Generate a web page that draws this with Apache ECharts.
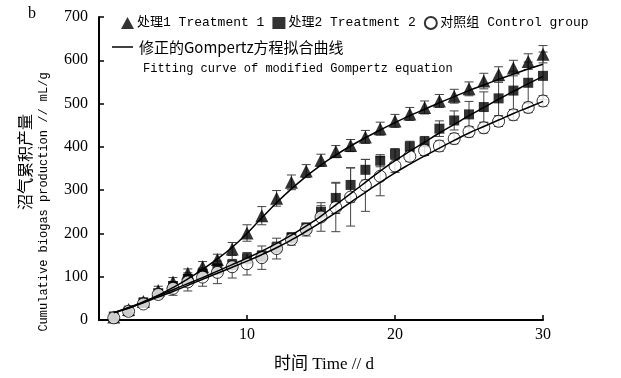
<!DOCTYPE html>
<html>
<head>
<meta charset="utf-8">
<script src="https://cdn.jsdelivr.net/npm/echarts@6/dist/echarts.min.js"></script>
<style>html,body{margin:0;padding:0;background:#fff;}#c{width:621px;height:378px;}</style>
</head>
<body>
<div id="c"></div>
<script>
const days = [1,2,3,4,5,6,7,8,9,10,11,12,13,14,15,16,17,18,19,20,21,22,23,24,25,26,27,28,29,30];
const treat1 = [7,24,43,68,88,108,123,140,164,201,241,281,318,344,369,389,403,423,442,460,476,491,506,517,534,552,567,582,597,614];
const treat1Err = [5,8,8,10,10,10,12,12,15,19,21,18,17,15,14,14,14,15,15,15,15,15,15,16,16,18,18,18,18,20];
const treat2 = [8,20,40,62,78,95,107,118,128,142,148,168,190,212,250,282,312,347,368,384,401,412,442,461,475,492,512,530,548,564];
const treat2Err = [5,6,8,8,10,10,10,12,12,12,12,12,12,12,14,36,40,24,14,12,12,12,18,22,30,35,40,45,48,55];
const control = [5,20,37,59,73,88,99,110,123,130,144,165,186,209,238,260,284,311,332,356,378,392,402,419,435,444,459,474,491,506];
const controlErr = [5,6,8,10,16,21,21,26,26,26,27,24,13,15,33,56,67,60,45,15,12,12,12,12,12,12,12,12,12,12];
const fit1 = [17,27,41,57,75,95,117,141,168,200,236,271,303,332,358,381,402,421,439,456,472,487,502,516,530,543,556,568,580,591];
const fit2 = [17,29,42,56,70,84,98,113,128,143,159,177,196,217,240,266,292,318,344,368,390,411,432,452,472,491,510,528,546,563];
const fit3 = [17,28,40,53,66,80,94,108,122,136,151,167,185,205,226,248,272,295,318,340,360,379,397,415,432,447,462,477,491,505];
const seriesNames = ['处理1 Treatment 1','处理2 Treatment 2','对照组 Control group'];
const yTicks = [0,100,200,300,400,500,600,700];
const xTicks = [0,10,20,30];

const MONO = '"Liberation Mono","Noto Sans CJK SC",monospace';
const SERIF = '"Liberation Serif","Noto Sans CJK SC",serif';

function pairs(vals){ return days.map((d,i)=>[d, vals[i]]); }
function errData(vals, errs){ return days.map((d,i)=>[d, vals[i], errs[i]]); }

function errRender(params, api){
  const x = api.value(0), y = api.value(1), e = api.value(2);
  const top = api.coord([x, y + e]);
  const bot = api.coord([x, y - e]);
  const hw = 4.5;
  const st = {stroke:'#444', lineWidth:1};
  return {type:'group', children:[
    {type:'line', shape:{x1:top[0], y1:top[1], x2:bot[0], y2:bot[1]}, style:st},
    {type:'line', shape:{x1:top[0]-hw, y1:top[1], x2:top[0]+hw, y2:top[1]}, style:st},
    {type:'line', shape:{x1:bot[0]-hw, y1:bot[1], x2:bot[0]+hw, y2:bot[1]}, style:st}
  ]};
}

const chart = echarts.init(document.getElementById('c'), null, {renderer:'canvas'});
const option = {
  animation:false,
  backgroundColor:'#fff',
  grid:{left:99, right:78, top:17, bottom:50},
  legend:{
    data:seriesNames.map((n,i)=>({name:n})),
    left:116, top:11, itemGap:8, itemWidth:13, itemHeight:12,
    textStyle:{fontFamily:MONO, fontSize:13, color:'#000', padding:[0,0,0,-2]}
  },
  xAxis:{
    type:'value', min:0, max:30, interval:10,
    axisLine:{lineStyle:{color:'#000', width:2}},
    axisTick:{inside:true, length:5, lineStyle:{color:'#000', width:1.5}},
    axisLabel:{fontFamily:SERIF, fontSize:16, color:'#000', margin:7,
      formatter:v=> v===0 ? '' : String(v)},
    splitLine:{show:false},
    name:'时间 Time // d', nameLocation:'middle', nameGap:36,
    nameTextStyle:{fontFamily:SERIF, fontSize:17, color:'#000', padding:[0,0,0,6]}
  },
  yAxis:{
    type:'value', min:0, max:700, interval:100,
    axisLine:{show:true, lineStyle:{color:'#000', width:2}},
    axisTick:{show:true, inside:true, length:5, lineStyle:{color:'#000', width:1.5}},
    axisLabel:{fontFamily:SERIF, fontSize:16, color:'#000', margin:11},
    splitLine:{show:false}
  },
  graphic:[
    {type:'text', left:28, top:6, style:{text:'b', font:'16px "Liberation Serif"', fill:'#000'}},
    {type:'text', x:25, y:162, rotation:Math.PI/2,
      style:{text:'沼气累积产量', font:'16px "Noto Sans CJK SC"', fill:'#000', textAlign:'center', textVerticalAlign:'middle'}},
    {type:'text', x:44, y:202, rotation:Math.PI/2,
      style:{text:'Cumulative biogas production // mL/g', font:'12px "Liberation Mono","Noto Sans CJK SC"', fill:'#000', textAlign:'center', textVerticalAlign:'middle'}},
    {type:'line', shape:{x1:112, y1:47, x2:133, y2:47}, style:{stroke:'#000', lineWidth:1.5}},
    {type:'text', x:139, y:47, style:{text:'修正的Gompertz方程拟合曲线', font:'15px "Noto Sans CJK SC"', fill:'#000', textVerticalAlign:'middle'}},
    {type:'text', x:143, y:69, style:{text:'Fitting curve of modified Gompertz equation', font:'12px "Liberation Mono"', fill:'#000', textVerticalAlign:'middle'}}
  ],
  series:[
    {type:'custom', name:'e1', renderItem:errRender, data:errData(treat1, treat1Err), z:1, silent:true},
    {type:'custom', name:'e2', renderItem:errRender, data:errData(treat2, treat2Err), z:1, silent:true},
    {type:'custom', name:'e3', renderItem:errRender, data:errData(control, controlErr), z:1, silent:true},
    {type:'scatter', name:seriesNames[0], data:pairs(treat1), symbol:'triangle', symbolSize:13,
      itemStyle:{color:'#000'}, z:3},
    {type:'scatter', name:seriesNames[1], data:pairs(treat2), symbol:'rect', symbolSize:10,
      itemStyle:{color:'#000'}, z:4},
    {type:'scatter', name:seriesNames[2], data:pairs(control), symbol:'circle', symbolSize:12,
      itemStyle:{color:'#fff', borderColor:'#000', borderWidth:1}, z:5},
    {type:'line', name:'fit1', data:pairs(fit1), smooth:true, showSymbol:false, lineStyle:{color:'#000', width:1.5}, z:6},
    {type:'line', name:'fit2', data:pairs(fit2), smooth:true, showSymbol:false, lineStyle:{color:'#000', width:1.5}, z:6},
    {type:'line', name:'fit3', data:pairs(fit3), smooth:true, showSymbol:false, lineStyle:{color:'#000', width:1.5}, z:6}
  ]
};
chart.setOption(option);
</script>
</body>
</html>
